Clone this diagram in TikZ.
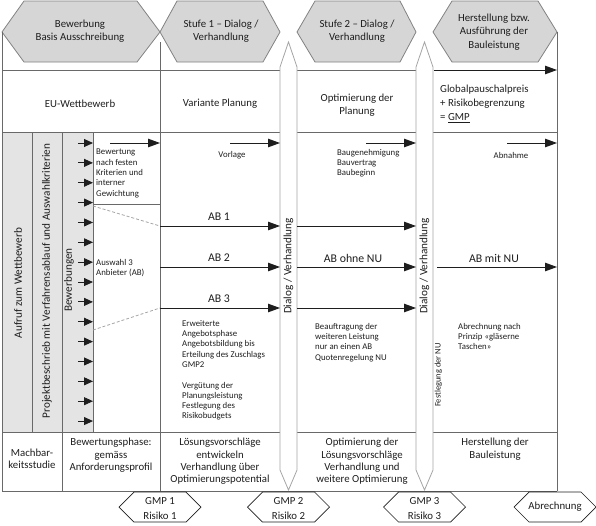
\documentclass[tikz,border=0pt]{standalone}
\usepackage{fontspec}
\setmainfont{Carlito}
\usetikzlibrary{arrows.meta}
\definecolor{lsline}{RGB}{105,105,105}
\definecolor{lsarrow}{RGB}{30,30,30}
\definecolor{lshex}{RGB}{214,214,214}
\definecolor{lshexline}{RGB}{130,130,130}
\definecolor{lsfill}{RGB}{228,228,228}
\definecolor{lscol}{RGB}{165,165,165}
\definecolor{lstext}{RGB}{30,30,30}
\tikzset{
  tabline/.style={lsline,line width=1pt},
  hexgray/.style={draw=lshexline,fill=lshex,line width=0.8pt},
  hexwhite/.style={draw=lsarrow,fill=white,line width=0.7pt},
  dlgcol/.style={draw=lscol,fill=white,line width=0.8pt},
  flow/.style={-{Triangle[length=12pt,width=8.5pt]},lsarrow,line width=0.9pt},
  shortflow/.style={-{Triangle[length=9pt,width=8pt]},lsarrow,line width=0.9pt},
  maintxt/.style={text=lstext,align=center,font=\fontsize{10.8}{12.4}\selectfont,inner sep=0pt},
  smalltxt/.style={text=lstext,align=left,font=\fontsize{8.8}{10.3}\selectfont,inner sep=0pt},
  abtxt/.style={text=lstext,font=\fontsize{11.8}{13}\selectfont,inner sep=0pt},
  sidetxt/.style={text=lstext,rotate=90,font=\fontsize{11.2}{13}\selectfont,inner sep=0pt},
}
\begin{document}
\begin{tikzpicture}[x=1pt,y=-1pt]
  \useasboundingbox (0,0) rectangle (596,525);
  % header hexagons
  \draw[hexgray] (2,32) -- (24,1) -- (137,1) -- (160,32) -- (137,62) -- (24,62) -- cycle;
  \draw[hexgray] (160,32) -- (177,1) -- (263,1) -- (280,32) -- (263,62) -- (177,62) -- cycle;
  \draw[hexgray] (297,32) -- (315,1) -- (400,1) -- (416,32) -- (400,62) -- (315,62) -- cycle;
  \draw[hexgray] (433,32) -- (452,1) -- (538,1) -- (557,32) -- (538,62) -- (452,62) -- cycle;
  \node[maintxt] (hBew) at (80,31) {Bewerbung\\Basis Ausschreibung};
  \node[maintxt] (hSt1) at (221,31) {Stufe 1 – Dialog /\\Verhandlung};
  \node[maintxt] (hSt2) at (357,31) {Stufe 2 – Dialog /\\Verhandlung};
  \node[maintxt,font=\fontsize{10.8}{13.5}\selectfont] (hHer) at (494,32) {Herstellung bzw.\\Ausführung der\\Bauleistung};
  % grey columns
  \fill[lsfill] (2,132) rectangle (93,432);
  % table
  \draw[tabline] (2,32) -- (2,491);
  \draw[tabline] (557,32) -- (557,491);
  \draw[tabline] (160,42) -- (160,491);
  \draw[tabline] (2,70) -- (416,70);
  \draw[tabline] (2,132) -- (557,132);
  \draw[tabline] (2,432) -- (557,432);
  \draw[tabline] (2,491) -- (557,491);
  \draw[tabline] (32,132) -- (32,432);
  \draw[tabline] (62,132) -- (62,491);
  \draw[tabline] (93,132) -- (93,432);
  \draw[tabline] (93,204) -- (160,204);
  \draw[lscol,line width=0.8pt,dash pattern=on 3pt off 2pt] (93,206) -- (160,226);
  \draw[lscol,line width=0.8pt,dash pattern=on 3pt off 2pt] (93,330) -- (160,308);
  % dialog columns
  \draw[dlgcol] (280,67) -- (288.5,42) -- (297,67) -- (297,470) -- (288.5,490) -- (280,470) -- cycle;
  \draw[dlgcol] (416,67) -- (424.5,42) -- (433,67) -- (433,470) -- (424.5,490) -- (416,470) -- cycle;
  \node[sidetxt] (sDlgA) at (288.5,266) {Dialog / Verhandlung};
  \node[sidetxt] (sDlgB) at (424.5,266) {Dialog / Verhandlung};
  % arrows
  \draw[flow] (434,70) -- (557,70);
  \foreach \k in {0,...,14}{
    \draw[shortflow] (78,{143+19.86*\k}) -- (93,{143+19.86*\k});
  }
  \draw[flow] (110,143) -- (160,143);
  \draw[flow] (230,143) -- (280,143);
  \draw[flow] (366,143) -- (416,143);
  \draw[flow] (507,143) -- (557,143);
  \foreach \yy in {226,267,308}{
    \draw[flow] (160,\yy) -- (280,\yy);
    \draw[flow] (297,\yy) -- (416,\yy);
  }
  \draw[flow] (437,267) -- (557,267);
  % row texts
  \node[maintxt] (rEU) at (80,104) {EU-Wettbewerb};
  \node[maintxt] (rVar) at (220,104) {Variante Planung};
  \node[maintxt,font=\fontsize{10.8}{13.5}\selectfont] (rOpt) at (357,105) {Optimierung der\\Planung};
  \node[maintxt,align=left,anchor=west,font=\fontsize{10.8}{14}\selectfont] (rGMP) at (440,104) {Globalpauschalpreis\\+ Risikobegrenzung\\= \underline{GMP}};
  \node[sidetxt] (sAuf) at (18,283) {Aufruf zum Wettbewerb};
  \node[sidetxt] (sPro) at (47,281) {Projektbeschrieb mit Verfahrensablauf und Auswahlkriterien};
  \node[sidetxt] (sBew) at (69,280) {Bewerbungen};
  \node[smalltxt,anchor=north west] (tBewert) at (96,149) {Bewertung\\nach festen\\Kriterien und\\interner\\Gewichtung};
  \node[smalltxt,anchor=west] (tAusw) at (96,268) {Auswahl 3\\Anbieter (AB)};
  \node[smalltxt] (tVor) at (232,155) {Vorlage};
  \node[abtxt] (lAB1) at (219,217) {AB 1};
  \node[abtxt] (lAB2) at (219,258) {AB 2};
  \node[abtxt] (lAB3) at (219,299) {AB 3};
  \node[smalltxt,anchor=north west] (tErw) at (182,320) {Erweiterte\\Angebotsphase\\Angebotsbildung bis\\Erteilung des Zuschlags\\GMP2\\[10.3pt]Vergütung der\\Planungsleistung\\Festlegung des\\Risikobudgets};
  \node[smalltxt,anchor=north west] (tBau) at (337,149) {Baugenehmigung\\Bauvertrag\\Baubeginn};
  \node[abtxt] (lABo) at (353,258) {AB ohne NU};
  \node[smalltxt,anchor=north west] (tBeauf) at (315,323) {Beauftragung der\\weiteren Leistung\\nur an einen AB\\Quotenregelung NU};
  \node[smalltxt] (tAbn) at (511,155) {Abnahme};
  \node[abtxt] (lABm) at (494,258) {AB mit NU};
  \node[smalltxt,anchor=north west] (tAbr) at (458,323) {Abrechnung nach\\Prinzip «gläserne\\Taschen»};
  \node[smalltxt,rotate=90,font=\fontsize{8.5}{10}\selectfont] (sNU) at (438.5,375) {Festlegung der NU};
  % bottom row
  \node[maintxt] (bMach) at (32,459) {Machbar-\\keitsstudie};
  \node[maintxt] (bBew) at (111,455.5) {Bewertungsphase:\\gemäss\\Anforderungsprofil};
  \node[maintxt] (bLoes) at (220,461.5) {Lösungsvorschläge\\entwickeln\\Verhandlung über\\Optimierungspotential};
  \node[maintxt] (bOpt) at (362,461.5) {Optimierung der\\Lösungsvorschläge\\Verhandlung und\\weitere Optimierung};
  \node[maintxt] (bHer) at (495,449) {Herstellung der\\Bauleistung};
  % bottom hexagons
  \foreach \cx in {160,288.5,424.5,555}{
    \draw[hexwhite] ({\cx-41},507) -- ({\cx-26},492) -- ({\cx+26},492) -- ({\cx+41},507) -- ({\cx+26},522) -- ({\cx-26},522) -- cycle;
  }
  \node[maintxt,font=\fontsize{10.8}{15}\selectfont] (gA) at (160,509) {GMP 1\\Risiko 1};
  \node[maintxt,font=\fontsize{10.8}{15}\selectfont] (gB) at (288.5,509) {GMP 2\\Risiko 2};
  \node[maintxt,font=\fontsize{10.8}{15}\selectfont] (gC) at (424.5,509) {GMP 3\\Risiko 3};
  \node[maintxt] (gD) at (555,507) {Abrechnung};
\end{tikzpicture}
\end{document}
